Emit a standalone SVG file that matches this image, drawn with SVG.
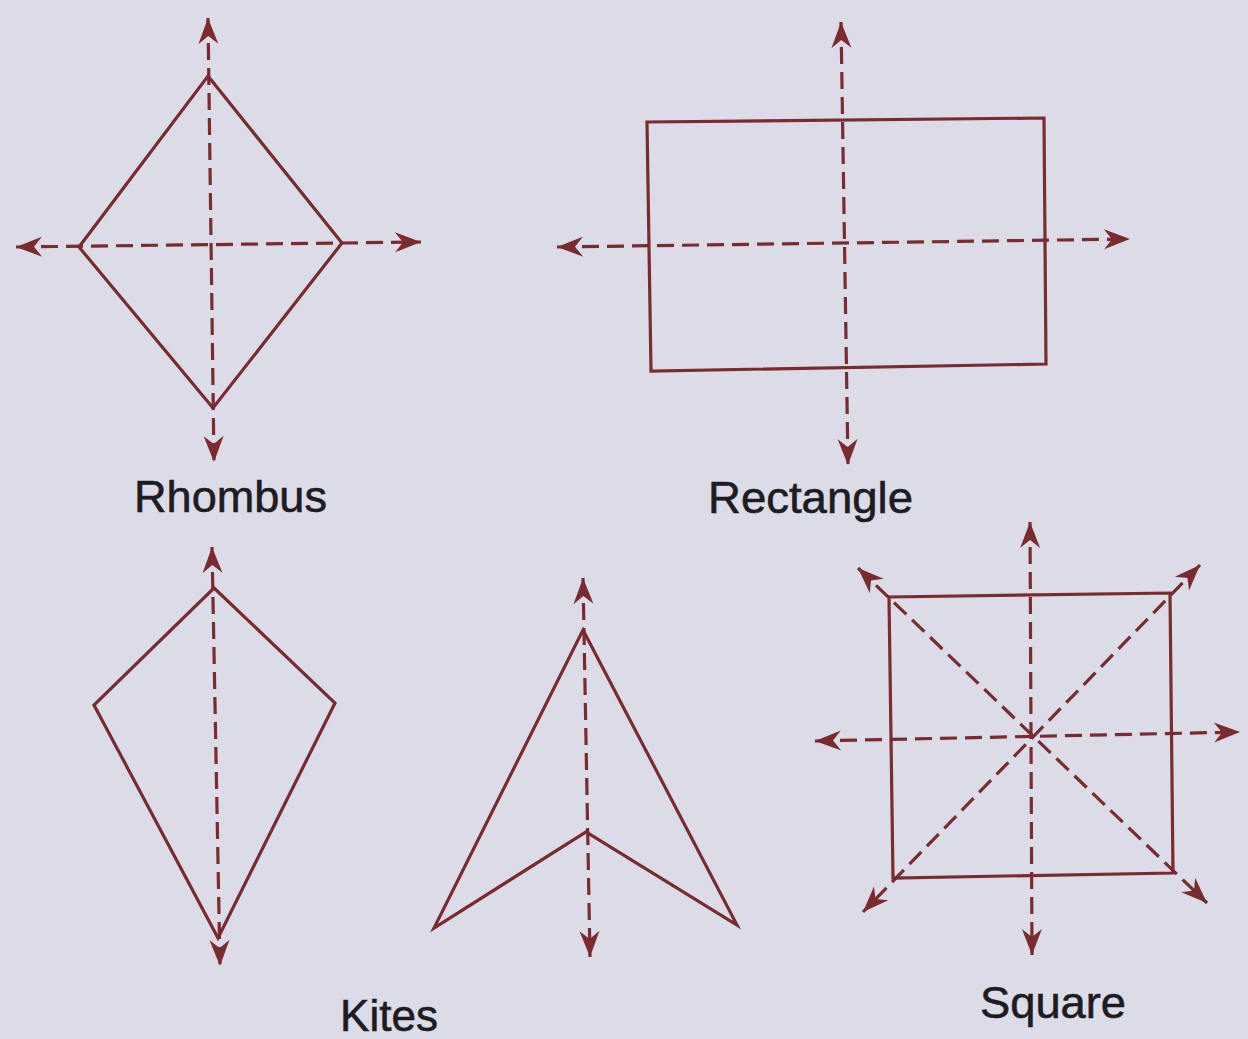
<svg xmlns="http://www.w3.org/2000/svg" width="1248" height="1039" viewBox="0 0 1248 1039">
<style>
.shape{fill:none;stroke:#7a2b2f;stroke-width:3.2;stroke-linejoin:miter}
.axis{fill:none;stroke:#7a2b2f;stroke-width:3.2;stroke-dasharray:17 8;marker-start:url(#ah);marker-end:url(#ah)}
.lbl{font-family:"Liberation Sans",Arial,sans-serif;font-size:45px;fill:#1d1c22;stroke:#1d1c22;stroke-width:0.6}
</style>
<defs>
<marker id="ah" viewBox="-28 -12 30 24" refX="0" refY="0" markerWidth="30" markerHeight="24" markerUnits="userSpaceOnUse" orient="auto-start-reverse">
<path d="M0,0 L-26,-10 L-18,0 L-26,10 Z" fill="#7a2b2f"/>
</marker>
</defs>
<rect width="1248" height="1039" fill="#dcdbe8"/>
<g id="connectors">
<line class="axis" x1="208" y1="18" x2="214" y2="462"/>
<line class="axis" x1="16" y1="247" x2="421" y2="242"/>
<line class="axis" x1="841" y1="22" x2="848" y2="465"/>
<line class="axis" x1="557" y1="247" x2="1130" y2="239"/>
<line class="axis" x1="212" y1="547" x2="220" y2="966"/>
<line class="axis" x1="583" y1="578" x2="590" y2="957"/>
<line class="axis" x1="1030" y1="522" x2="1032" y2="955"/>
<line class="axis" x1="815" y1="741" x2="1240" y2="732"/>
<line class="axis" x1="858" y1="568" x2="1207" y2="903"/>
<line class="axis" x1="1200" y1="565" x2="863" y2="912"/>
</g>
<g id="rhombus">
<polygon class="shape" points="208,76 342,243 213,408 79,247"/>
<text class="lbl" x="134" y="512" textLength="193" lengthAdjust="spacingAndGlyphs">Rhombus</text>
</g>
<g id="rectangle">
<polygon class="shape" points="647,122 1044,118 1046,364 651,371"/>
<text class="lbl" x="708" y="513" textLength="205" lengthAdjust="spacingAndGlyphs">Rectangle</text>
</g>
<g id="kite1">
<polygon class="shape" points="214,588 335,703 218,938 94,705"/>
</g>
<g id="kite2">
<polygon class="shape" points="583,630 737,925 586,832 434,928"/>
</g>
<text id="kites-label" class="lbl" x="340" y="1031" textLength="98" lengthAdjust="spacingAndGlyphs">Kites</text>
<g id="square">
<polygon class="shape" points="889,597 1170,593 1173,873 893,878"/>
<text class="lbl" x="980" y="1018" textLength="146" lengthAdjust="spacingAndGlyphs">Square</text>
</g>
</svg>
